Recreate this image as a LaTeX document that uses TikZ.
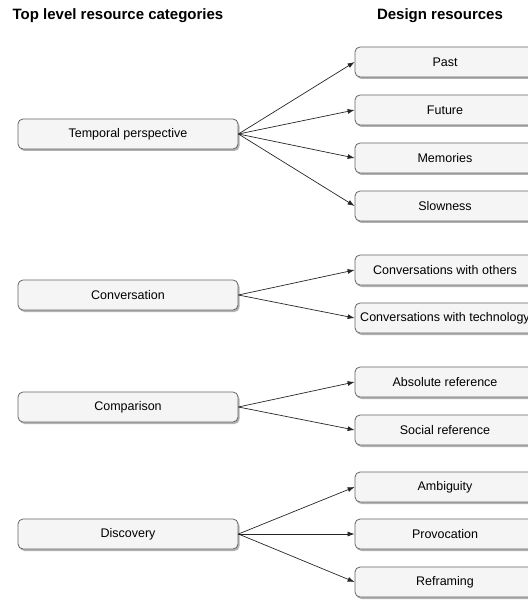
\documentclass[tikz,border=0pt]{standalone}
\usepackage{fontspec}
\setmainfont{Liberation Sans}
\usetikzlibrary{arrows.meta,shadows}
\definecolor{boxfill}{HTML}{F5F5F5}
\definecolor{boxline}{HTML}{666666}
\tikzset{
  txt/.style={font=\fontsize{12.5}{14}\selectfont},
  box/.style={draw=boxline, fill=boxfill, rounded corners=5pt, line width=0.8pt,
    minimum height=30pt, inner sep=0pt, txt,
    drop shadow={shadow xshift=1.5pt, shadow yshift=-2pt, opacity=0.3, fill=black}},
  lbox/.style={box, minimum width=220pt},
  rbox/.style={box, minimum width=180pt},
  every label/.style={txt, inner sep=0pt},
  title/.style={font=\bfseries\fontsize{15}{17}\selectfont, inner sep=0pt},
  link/.style={draw=black!85, line width=0.7pt, -{Latex[length=7pt,width=5pt]}}
}
\begin{document}
\begin{tikzpicture}[x=1pt,y=-1pt]
\useasboundingbox (0,0) rectangle (527,601);
\node[title] (t1) at (118,16) {Top level resource categories};
\node[title] (t2) at (440,16) {Design resources};

\node[lbox] (temp) at (128,134) {Temporal perspective};
\node[lbox] (conv) at (128,295) {Conversation};
\node[lbox] (comp) at (128,407) {Comparison};
\node[lbox] (disc) at (128,534) {Discovery};

\node[rbox,label={center:Past}] (past) at (445,62) {};
\node[rbox,label={center:Future}] (fut) at (445,110) {};
\node[rbox,label={center:Memories}] (mem) at (445,158) {};
\node[rbox,label={center:Slowness}] (slow) at (445,206) {};
\node[rbox,label={center:Conversations with others}] (cwo) at (445,270) {};
\node[rbox,label={center:Conversations with technology}] (cwt) at (445,318) {};
\node[rbox,label={center:Absolute reference}] (abs) at (445,382) {};
\node[rbox,label={center:Social reference}] (soc) at (445,430) {};
\node[rbox,label={center:Ambiguity}] (amb) at (445,487) {};
\node[rbox,label={center:Provocation}] (prov) at (445,534) {};
\node[rbox,label={center:Reframing}] (refr) at (445,582) {};

\foreach \s/\t in {temp/past,temp/fut,temp/mem,temp/slow,conv/cwo,conv/cwt,comp/abs,comp/soc,disc/amb,disc/prov,disc/refr}
  \draw[link] (\s.east) -- (\t.west);
\end{tikzpicture}
\end{document}
